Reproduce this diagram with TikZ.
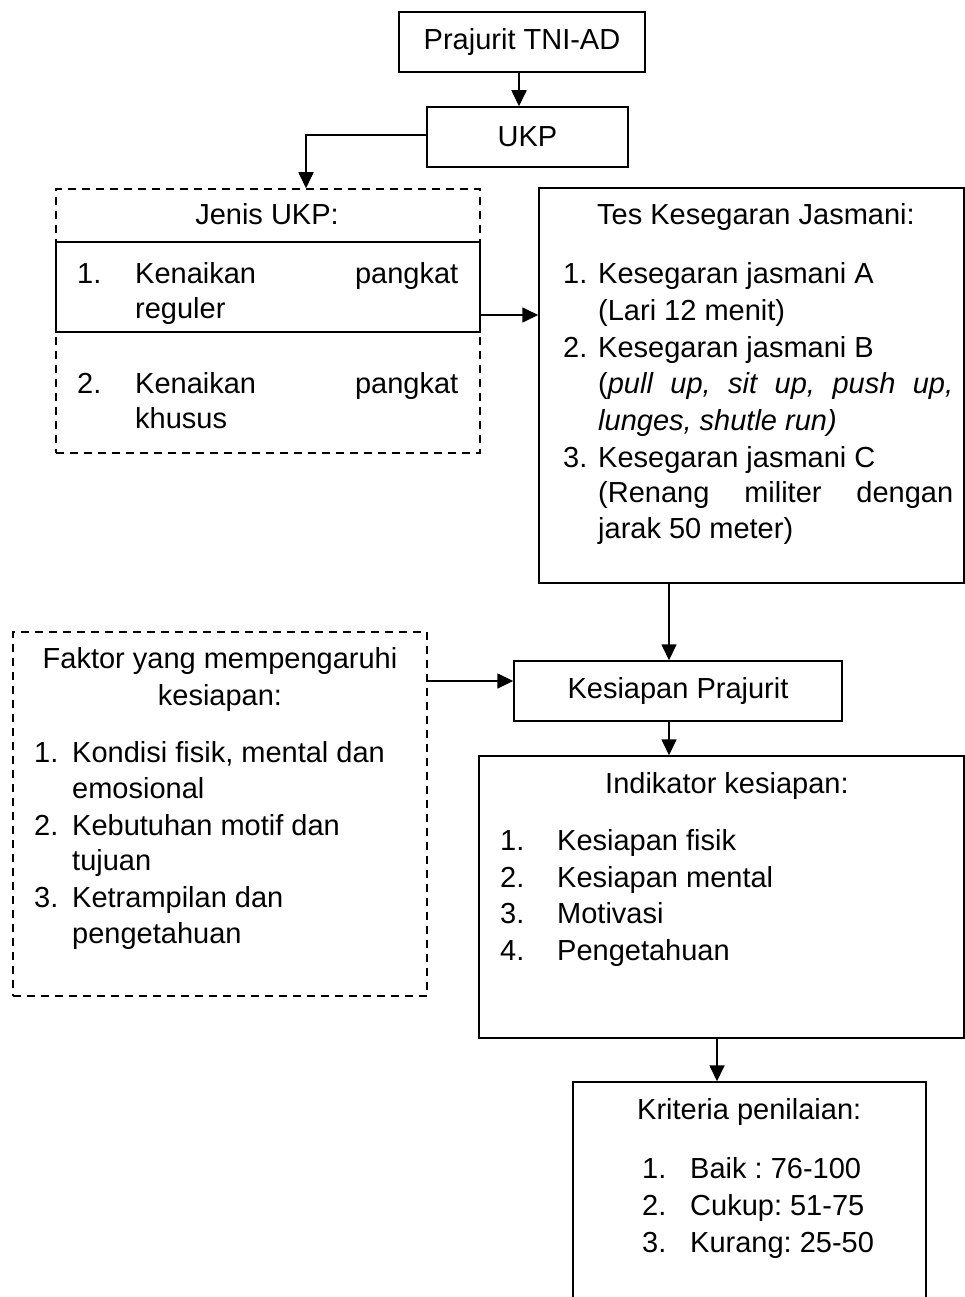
\documentclass[tikz,border=0pt]{standalone}
\usepackage{fontspec}
\setmainfont{Liberation Sans}
\frenchspacing
\usetikzlibrary{arrows.meta}
\tikzset{
  box/.style={draw, line width=1.5pt, inner sep=0pt, font=\fontsize{29}{37}\selectfont},
  dbox/.style={draw, line width=1.5pt, dash pattern=on 8pt off 6pt, inner sep=0pt},
  arr/.style={line width=1.7pt, -{Triangle[length=16pt,width=15pt]}},
  txt/.style={anchor=base west, inner sep=0pt, font=\fontsize{29}{37}\selectfont\frenchspacing},
  ctxt/.style={anchor=base, inner sep=0pt, font=\fontsize{29}{37}\selectfont\frenchspacing}
}
\begin{document}
\begin{tikzpicture}[x=1pt,y=-1pt]
\fill[white] (0,0) rectangle (965,1297);
\clip (0,0) rectangle (965,1297);
\useasboundingbox (0,0) rectangle (965,1297);

% boxes
\node[box, minimum width=246pt, minimum height=60pt] (prajurit) at (522,42) {Prajurit TNI-AD};
\node[box, minimum width=201pt, minimum height=60pt] (ukp) at (527.5,137) {UKP};
\node[dbox, minimum width=424pt, minimum height=264pt] (jenis) at (268,321) {};
\node[box, minimum width=424pt, minimum height=90pt] (inner) at (268,287) {};
\node[box, minimum width=425pt, minimum height=395pt] (tes) at (751.5,385.5) {};
\node[dbox, minimum width=414pt, minimum height=364pt] (faktor) at (220,814) {};
\node[box, minimum width=328pt, minimum height=60pt] (kesiapan) at (678,691) {Kesiapan Prajurit};
\node[box, minimum width=485pt, minimum height=282pt] (indikator) at (721.5,897) {};
\node[box, minimum width=353pt, minimum height=260pt] (kriteria) at (749.5,1212) {};

% connector helpers
\coordinate (c1) at (519,0);
\coordinate (c2) at (306,0);
\coordinate (c3) at (480,315);
\coordinate (c4) at (669,0);
\coordinate (c5) at (0,681);
\coordinate (c6) at (717,0);

\draw[arr] (prajurit.south -| c1) -- (ukp.north -| c1);
\draw[line width=1.7pt] ([yshift=2pt]ukp.west) -- ([yshift=2pt]ukp.west -| c2) coordinate (c2b);
\draw[arr] ([yshift=0.85pt]c2b) -- (jenis.north -| c2);
\draw[arr] (c3) -- (tes.west |- c3);
\draw[arr] (tes.south -| c4) -- (kesiapan.north -| c4);
\draw[arr] (faktor.east |- c5) -- (kesiapan.west |- c5);
\draw[arr] (kesiapan.south -| c4) -- (indikator.north -| c4);
\draw[arr] (indikator.south -| c6) -- (kriteria.north -| c6);

% Jenis UKP
\node[ctxt] (j0) at (267,225) {Jenis UKP:};
\node[txt] (j1n) at (77,283) {1.};
\node[txt] (j1a) at (135,283) {\makebox[323pt][s]{Kenaikan pangkat}};
\node[txt] (j1b) at (135,318) {reguler};
\node[txt] (j2n) at (77,393) {2.};
\node[txt] (j2a) at (135,393) {\makebox[323pt][s]{Kenaikan pangkat}};
\node[txt] (j2b) at (135,428) {khusus};

% Tes Kesegaran Jasmani
\node[txt] (t0) at (597,225) {Tes Kesegaran Jasmani:};
\node[txt] (t1n) at (563,283) {1.};
\node[txt] (t1a) at (598,283) {Kesegaran jasmani A};
\node[txt] (t1b) at (598,320) {(Lari 12 menit)};
\node[txt] (t2n) at (563,357) {2.};
\node[txt] (t2a) at (598,357) {Kesegaran jasmani B};
\node[txt] (t2b) at (598,393) {\makebox[355pt][s]{(\textit{pull up, sit up, push up,}}};
\node[txt] (t2c) at (598,430) {\textit{lunges, shutle run)}};
\node[txt] (t3n) at (563,467) {3.};
\node[txt] (t3a) at (598,467) {Kesegaran jasmani C};
\node[txt] (t3b) at (598,502) {\makebox[355pt][s]{(Renang militer dengan}};
\node[txt] (t3c) at (598,538) {jarak 50 meter)};

% Faktor
\node[ctxt] (f0) at (220,668) {Faktor yang mempengaruhi};
\node[ctxt] (f0b) at (220,705) {kesiapan:};
\node[txt] (f1n) at (34,762) {1.};
\node[txt] (f1a) at (72,762) {Kondisi fisik, mental dan};
\node[txt] (f1b) at (72,798) {emosional};
\node[txt] (f2n) at (34,835) {2.};
\node[txt] (f2a) at (72,835) {Kebutuhan motif dan};
\node[txt] (f2b) at (72,870) {tujuan};
\node[txt] (f3n) at (34,907) {3.};
\node[txt] (f3a) at (72,907) {Ketrampilan dan};
\node[txt] (f3b) at (72,943) {pengetahuan};

% Indikator
\node[txt] (i0) at (605,793) {Indikator kesiapan:};
\node[txt] (i1n) at (500,850) {1.};
\node[txt] (i1a) at (557,850) {Kesiapan fisik};
\node[txt] (i2n) at (500,887) {2.};
\node[txt] (i2a) at (557,887) {Kesiapan mental};
\node[txt] (i3n) at (500,923) {3.};
\node[txt] (i3a) at (557,923) {Motivasi};
\node[txt] (i4n) at (500,960) {4.};
\node[txt] (i4a) at (557,960) {Pengetahuan};

% Kriteria
\node[txt] (k0) at (637,1119) {Kriteria penilaian:};
\node[txt] (k1n) at (642,1178) {1.};
\node[txt] (k1a) at (690,1178) {Baik : 76-100};
\node[txt] (k2n) at (642,1215) {2.};
\node[txt] (k2a) at (690,1215) {Cukup: 51-75};
\node[txt] (k3n) at (642,1252) {3.};
\node[txt] (k3a) at (690,1252) {Kurang: 25-50};
\end{tikzpicture}
\end{document}
